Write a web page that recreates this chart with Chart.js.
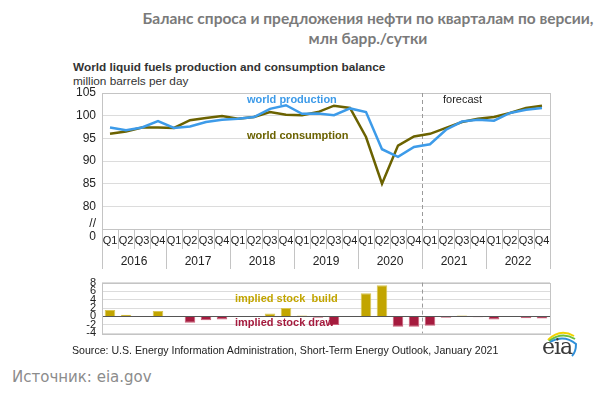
<!DOCTYPE html>
<html>
<head>
<meta charset="utf-8">
<script src="https://cdn.jsdelivr.net/npm/chart.js@4"></script>
<style>
  html, body { margin: 0; padding: 0; background: #fff; }
  #wrap { position: relative; width: 599px; height: 394px; overflow: hidden; font-family: "Liberation Sans", Arial, sans-serif; }
  .abs { position: absolute; white-space: nowrap; }
  #title { left: 68px; width: 600px; top: 8px; text-align: center; font-family: Lato, sans-serif; font-weight: bold; font-size: 15.5px; line-height: 20px; color: #7a7a7a; }
  #sub1 { left: 73px; top: 60px; font-weight: bold; font-size: 11.8px; color: #333; }
  #sub2 { left: 73px; top: 74px; font-size: 11.8px; color: #333; }
  #source { left: 72px; top: 344px; font-size: 10.6px; color: #222; }
  #credit { left: 12px; top: 368px; font-family: "DejaVu Sans", sans-serif; font-size: 15px; color: #8c8c8c; }
  #eia { left: 540px; top: 328px; width: 40px; height: 34px; }
  #eia span { position: absolute; left: 2px; top: 6px; font-family: "DejaVu Serif", serif; font-size: 22px; color: #3a3a3a; letter-spacing: -1px; }
  canvas { position: absolute; left: 0; }
</style>
</head>
<body>
<div id="wrap">
  <div id="title" class="abs">Баланс спроса и предложения нефти по кварталам по версии,<br>млн барр./сутки</div>
  <div id="sub1" class="abs">World liquid fuels production and consumption balance</div>
  <div id="sub2" class="abs">million barrels per day</div>
  <canvas id="topChart" width="599" height="275" style="top:0"></canvas>
  <canvas id="stockChart" width="599" height="76" style="top:270px"></canvas>
  <div id="source" class="abs">Source: U.S. Energy Information Administration, Short-Term Energy Outlook, January 2021</div>
  <div id="eia" class="abs">
    <svg width="40" height="34" viewBox="0 0 40 34">
      <path d="M8 12 Q20 0 34 8" stroke="#f2d200" stroke-width="2" fill="none"/>
      <path d="M9 13 Q22 3 35 11" stroke="#6cbf3c" stroke-width="2" fill="none"/>
      <path d="M10 14 Q24 6 36 16 Q36 24 32 28" stroke="#2f8fd8" stroke-width="2" fill="none"/>
    </svg>
    <span>eia</span>
  </div>
  <div id="credit" class="abs">Источник: eia.gov</div>
</div>
<script>
// ---- data ----
const quarters = ['Q1','Q2','Q3','Q4','Q1','Q2','Q3','Q4','Q1','Q2','Q3','Q4','Q1','Q2','Q3','Q4',
                  'Q1','Q2','Q3','Q4','Q1','Q2','Q3','Q4','Q1','Q2','Q3','Q4'];
const years = ['2016', '2017', '2018', '2019', '2020', '2021', '2022'];

const production = [97.4, 96.8, 97.4, 98.8, 97.3, 97.6, 98.6, 99.1, 99.3, 99.7, 101.5, 102.3, 100.4, 100.5,
                    100.1, 101.6, 100.8, 92.6, 90.9, 93.1, 93.7, 96.9, 98.7, 99.1, 98.9, 100.6, 101.3, 101.7];
const consumption = [96.0, 96.5, 97.4, 97.4, 97.3, 99.0, 99.5, 99.9, 99.3, 99.7, 100.8, 100.2, 100.1, 100.8,
                     102.2, 101.7, 95.3, 85.0, 93.4, 95.4, 96.0, 97.3, 98.6, 99.3, 99.7, 100.6, 101.7, 102.2];
const stockChange = [1.5, 0.4, 0.0, 1.3, 0.1, -1.5, -0.9, -0.7, 0.0, 0.1, 0.7, 2.0, 0.2, -0.3,
                     -2.0, 0.0, 5.5, 7.4, -2.4, -2.4, -2.2, -0.3, 0.2, -0.2, -0.7, 0.0, -0.4, -0.5];
const forecastStart = 20; // first forecast quarter (2021 Q1)

const colors = {
  production: '#3d9be9',
  consumption: '#6b6200',
  build: '#c2a500',
  buildEdge: '#d9c552',
  draw: '#a51b3e',
  drawEdge: '#c95c76',
  grid: '#dcdcdc',
  frame: '#c4c4c4',
  text: '#222'
};
const FONT = '"Liberation Sans", Arial, sans-serif';

// plot box frame + forecast dashed line
function frameAndForecast(chart) {
  const { ctx, chartArea: a } = chart;
  const step = (a.right - a.left) / quarters.length;
  ctx.save();
  ctx.strokeStyle = colors.frame;
  ctx.lineWidth = 1;
  ctx.strokeRect(Math.round(a.left) + 0.5, Math.round(a.top) + 0.5, Math.round(a.right - a.left), Math.round(a.bottom - a.top));
  const fx = Math.round(a.left + step * forecastStart) + 0.5;
  ctx.strokeStyle = '#9a9a9a';
  ctx.setLineDash([4, 3]);
  ctx.beginPath();
  ctx.moveTo(fx, a.top);
  ctx.lineTo(fx, a.bottom);
  ctx.stroke();
  ctx.restore();
}

const topDecor = {
  id: 'topDecor',
  beforeDatasetsDraw(chart) { frameAndForecast(chart); },
  afterDraw(chart) {
    const { ctx, chartArea: a } = chart;
    const step = (a.right - a.left) / quarters.length;
    ctx.save();
    // quarter / year separators under the plot
    ctx.strokeStyle = colors.frame;
    ctx.lineWidth = 1;
    for (let k = 0; k <= quarters.length; k++) {
      const x = Math.round(a.left + step * k) + 0.5;
      ctx.beginPath();
      ctx.moveTo(x, a.bottom);
      ctx.lineTo(x, k % 4 === 0 ? a.bottom + 40 : a.bottom + 20);
      ctx.stroke();
    }
    ctx.fillStyle = colors.text;
    ctx.font = '12px ' + FONT;
    ctx.textAlign = 'center';
    ctx.textBaseline = 'middle';
    years.forEach((y, j) => ctx.fillText(y, a.left + step * (4 * j + 2), a.bottom + 33));
    // axis break marks
    ctx.textAlign = 'right';
    ctx.fillText('//', 96, 224);
    ctx.fillText('0', 96, 237);
    // series labels
    ctx.textAlign = 'left';
    ctx.font = 'bold 11px ' + FONT;
    ctx.fillStyle = colors.production;
    ctx.fillText('world production', 247, 100);
    ctx.fillStyle = colors.consumption;
    ctx.fillText('world consumption', 247, 136);
    ctx.fillStyle = colors.text;
    ctx.font = '11px ' + FONT;
    ctx.fillText('forecast', 443, 100);
    ctx.restore();
  }
};

const stockDecor = {
  id: 'stockDecor',
  beforeDatasetsDraw(chart) { frameAndForecast(chart); },
  afterDraw(chart) {
    const { ctx } = chart;
    ctx.save();
    ctx.textAlign = 'left';
    ctx.textBaseline = 'middle';
    ctx.font = 'bold 11px ' + FONT;
    ctx.fillStyle = colors.build;
    ctx.fillText('implied stock  build', 235, 29);
    ctx.fillStyle = colors.draw;
    ctx.fillText('implied stock draw', 235, 53);
    ctx.restore();
  }
};

new Chart(document.getElementById('topChart'), {
  type: 'line',
  data: {
    labels: quarters,
    datasets: [
      { label: 'world production', data: production, borderColor: colors.production, borderWidth: 2.5, pointRadius: 0, tension: 0 },
      { label: 'world consumption', data: consumption, borderColor: colors.consumption, borderWidth: 2.5, pointRadius: 0, tension: 0 }
    ]
  },
  options: {
    responsive: false,
    animation: false,
    layout: { padding: { left: 62, right: 49, top: 93, bottom: 0 } },
    plugins: { legend: { display: false }, tooltip: { enabled: false } },
    scales: {
      x: {
        offset: true,
        grid: { display: false, drawTicks: false },
        border: { display: false },
        ticks: { color: colors.text, font: { family: FONT, size: 11 }, padding: 5, autoSkip: false, maxRotation: 0 },
        afterFit: s => { s.height = 46; }
      },
      y: {
        min: 75, max: 105,
        grid: { color: colors.grid, drawTicks: false },
        border: { display: false },
        ticks: {
          stepSize: 5, padding: 6, color: colors.text, font: { family: FONT, size: 12 },
          callback: v => (v === 75 ? '' : v)
        },
        afterFit: s => { s.width = 40; }
      }
    }
  },
  plugins: [topDecor]
});

new Chart(document.getElementById('stockChart'), {
  type: 'bar',
  data: {
    labels: quarters,
    datasets: [{
      label: 'implied stock change',
      data: stockChange,
      backgroundColor: c => (c.raw >= 0 ? colors.build : colors.draw),
      borderColor: c => (c.raw >= 0 ? colors.buildEdge : colors.drawEdge),
      borderWidth: 1,
      barPercentage: 0.66,
      categoryPercentage: 1
    }]
  },
  options: {
    responsive: false,
    animation: false,
    layout: { padding: { left: 62, right: 49, top: 8, bottom: 0 } },
    plugins: { legend: { display: false }, tooltip: { enabled: false } },
    scales: {
      x: { display: false },
      y: {
        min: -4, max: 8,
        grid: { color: c => (c.tick.value === 0 ? '#555' : colors.grid), drawTicks: false },
        border: { display: false },
        ticks: { stepSize: 2, autoSkip: false, padding: 6, color: colors.text, font: { family: FONT, size: 11 } },
        afterFit: s => { s.width = 40; }
      }
    }
  },
  plugins: [stockDecor]
});
</script>
</body>
</html>
